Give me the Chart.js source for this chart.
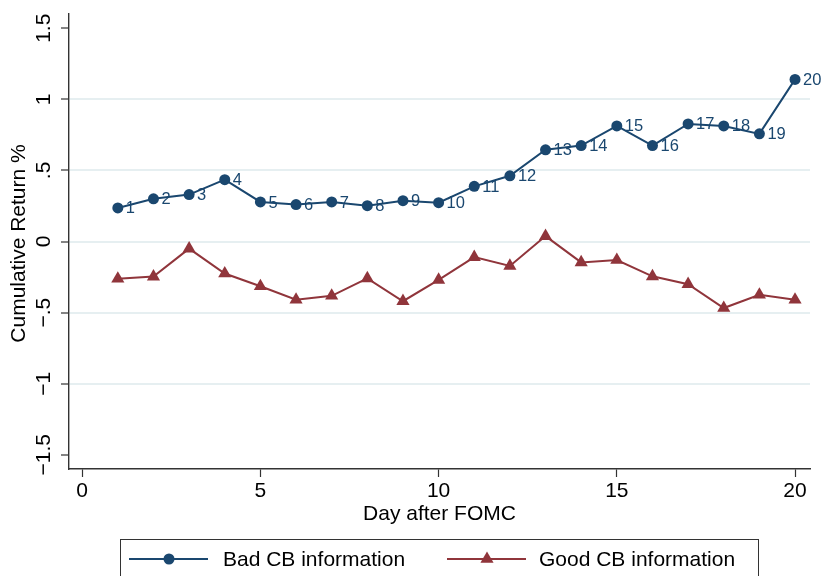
<!DOCTYPE html>
<html>
<head>
<meta charset="utf-8">
<script src="https://cdn.jsdelivr.net/npm/chart.js@4.4.1/dist/chart.umd.min.js"></script>
<style>
  html, body { margin: 0; padding: 0; background: #fff; }
  #wrap { width: 825px; height: 576px; position: relative; }
</style>
</head>
<body>
<div id="wrap"><canvas id="chartCB"></canvas></div>
<script>
// datos
const days = [1, 2, 3, 4, 5, 6, 7, 8, 9, 10, 11, 12, 13, 14, 15, 16, 17, 18, 19, 20];
const badCB = [0.236, 0.30, 0.33, 0.435, 0.278, 0.26, 0.278, 0.252, 0.287, 0.273,
               0.388, 0.462, 0.645, 0.675, 0.813, 0.675, 0.827, 0.813, 0.757, 1.14];
const goodCB = [-0.262, -0.247, -0.05, -0.225, -0.315, -0.41, -0.382, -0.26, -0.42, -0.27,
                -0.11, -0.172, 0.038, -0.147, -0.13, -0.245, -0.30, -0.468, -0.375, -0.41];
const pointLabels = ['1', '2', '3', '4', '5', '6', '7', '8', '9', '10',
                     '11', '12', '13', '14', '15', '16', '17', '18', '19', '20'];
const xTickValues = [0, 5, 10, 15, 20];
const yTickValues = [-1.5, -1, -0.5, 0, 0.5, 1, 1.5];
const yTickLabels = ['\u22121.5', '\u22121', '\u2212.5', '0', '.5', '1', '1.5'];
const seriesNames = ['Bad CB information', 'Good CB information'];
const xTitle = 'Day after FOMC';
const yTitle = 'Cumulative Return %';

(function() {
  'use strict';

  const BLUE = '#1a476f';
  const RED = '#90353b';
  const AXIS = '#333333';
  const FONT = '"Liberation Sans", Arial, Helvetica, sans-serif';

  // Etiquetas de los puntos de la serie azul
  const pointLabelPlugin = {
    id: 'pointLabels',
    afterDatasetsDraw(chart) {
      const meta = chart.getDatasetMeta(0);
      const ctx = chart.ctx;
      ctx.save();
      ctx.font = '16.5px ' + FONT;
      ctx.fillStyle = BLUE;
      ctx.textAlign = 'left';
      ctx.textBaseline = 'middle';
      meta.data.forEach((pt, i) => {
        ctx.fillText(pointLabels[i], pt.x + 8, pt.y + 1);
      });
      ctx.restore();
    }
  };

  function drawMarker(ctx, style, r, x, y) {
    ctx.beginPath();
    if (style === 'triangle') {
      const h = r * Math.sin(Math.PI * 2 / 3);
      ctx.moveTo(x, y - r);
      ctx.lineTo(x + h, y + r / 2);
      ctx.lineTo(x - h, y + r / 2);
      ctx.closePath();
    } else {
      ctx.arc(x, y, r, 0, Math.PI * 2);
    }
    ctx.fill();
  }

  // Ticks rotados del eje y, titulos de ejes y leyenda con caja
  const axisTextPlugin = {
    id: 'axisText',
    afterDraw(chart) {
      const ctx = chart.ctx;
      const area = chart.chartArea;
      const ys = chart.scales.y;
      ctx.save();
      ctx.fillStyle = '#000';
      ctx.font = '21px ' + FONT;
      ctx.textAlign = 'center';
      ctx.textBaseline = 'middle';

      ys.ticks.forEach(t => {
        const idx = yTickValues.indexOf(t.value);
        if (idx < 0) return;
        const py = ys.getPixelForValue(t.value);
        ctx.save();
        ctx.translate(44, py);
        ctx.rotate(-Math.PI / 2);
        ctx.fillText(yTickLabels[idx], 0, 0);
        ctx.restore();
      });

      // titulo eje y
      ctx.save();
      ctx.translate(19, (area.top + area.bottom) / 2 + 2);
      ctx.rotate(-Math.PI / 2);
      ctx.fillText(yTitle, 0, 0);
      ctx.restore();

      // titulo eje x
      ctx.fillText(xTitle, (area.left + area.right) / 2, 514);

      // leyenda
      const boxL = 120, boxR = 758, boxT = 539;
      ctx.strokeStyle = AXIS;
      ctx.lineWidth = 1;
      ctx.strokeRect(boxL + 0.5, boxT + 0.5, boxR - boxL, 60);

      const entries = [
        { x0: 129, textX: 223 },
        { x0: 447, textX: 539 }
      ];
      const ly = 559;
      chart.data.datasets.forEach((ds, i) => {
        const e = entries[i];
        ctx.strokeStyle = ds.borderColor;
        ctx.lineWidth = 2;
        ctx.beginPath();
        ctx.moveTo(e.x0, ly);
        ctx.lineTo(e.x0 + 79, ly);
        ctx.stroke();
        ctx.fillStyle = ds.pointBackgroundColor;
        drawMarker(ctx, ds.pointStyle, ds.pointRadius, e.x0 + 40, ly);
        ctx.fillStyle = '#000';
        ctx.textAlign = 'left';
        ctx.fillText(ds.label, e.textX, ly + 1);
      });
      ctx.restore();
    }
  };

  function init() {
    const canvas = document.getElementById('chartCB');
    if (!canvas) return;

    const ctx = canvas.getContext('2d');
    new Chart(ctx, {
      type: 'line',
      data: {
        datasets: [{
          label: seriesNames[0],
          data: days.map((d, i) => ({ x: d, y: badCB[i] })),
          borderColor: BLUE,
          backgroundColor: BLUE,
          pointBackgroundColor: BLUE,
          pointBorderWidth: 0,
          pointRadius: 5.5,
          pointStyle: 'circle',
          borderWidth: 2,
          tension: 0
        }, {
          label: seriesNames[1],
          data: days.map((d, i) => ({ x: d, y: goodCB[i] })),
          borderColor: RED,
          backgroundColor: RED,
          pointBackgroundColor: RED,
          pointBorderWidth: 0,
          pointRadius: 7.6,
          pointStyle: 'triangle',
          borderWidth: 2,
          tension: 0
        }]
      },
      options: {
        responsive: true,
        maintainAspectRatio: false,
        animation: false,
        layout: { padding: { top: 14, right: 15, left: 0, bottom: 0 } },
        plugins: {
          legend: { display: false },
          tooltip: { enabled: false }
        },
        scales: {
          x: {
            type: 'linear',
            min: -0.37,
            max: 20.42,
            afterBuildTicks: s => { s.ticks = xTickValues.map(v => ({ value: v })); },
            afterFit: s => { s.height = 107; },
            ticks: {
              color: '#000',
              font: { size: 21, family: FONT },
              padding: 2,
              maxRotation: 0,
              minRotation: 0
            },
            grid: {
              drawOnChartArea: false,
              drawTicks: true,
              tickLength: 8,
              tickColor: AXIS,
              tickWidth: 1.2
            },
            border: { color: AXIS, width: 1.4 }
          },
          y: {
            min: -1.6,
            max: 1.6,
            afterBuildTicks: s => { s.ticks = yTickValues.map(v => ({ value: v })); },
            afterFit: s => { s.width = 69; },
            ticks: { display: false },
            grid: {
              color: c => (c.tick && Math.abs(c.tick.value) === 1.5) ? 'rgba(0,0,0,0)' : '#e6eff1',
              lineWidth: 2,
              drawTicks: true,
              tickLength: 8,
              tickColor: AXIS,
              tickWidth: 1.2
            },
            border: { color: AXIS, width: 1.4 }
          }
        }
      },
      plugins: [pointLabelPlugin, axisTextPlugin]
    });
  }

  if (document.readyState === 'loading') {
    document.addEventListener('DOMContentLoaded', init);
  } else {
    init();
  }
})();
</script>
</body>
</html>
